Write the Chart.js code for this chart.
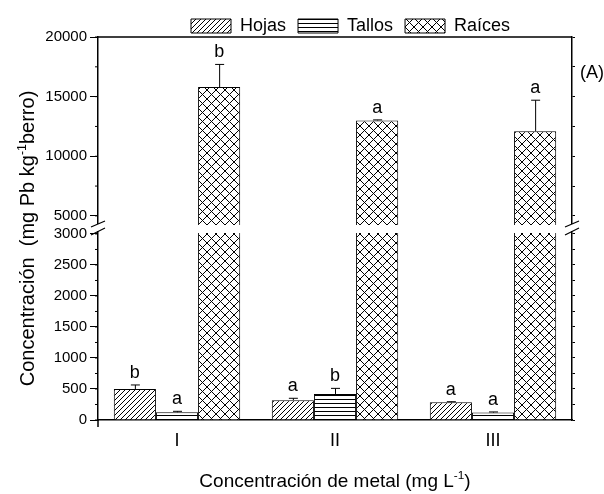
<!DOCTYPE html>
<html>
<head>
<meta charset="utf-8">
<script src="https://cdn.jsdelivr.net/npm/chart.js@4"></script>
<style>
  html, body { margin: 0; padding: 0; background: #fff; }
</style>
</head>
<body>
<canvas id="barCanvas" width="604" height="494"></canvas>
<script>
// datos
const categorias = ["I", "II", "III"];
const hojas = [500, 320, 285];
const tallos = [125, 420, 120];
const raices = [15800, 13000, 12100];
const errHojas = [65, 30, 10];
const errTallos = [15, 90, 10];
const errRaices = [1900, 50, 2600];
const letrasHojas = ["b", "a", "a"];
const letrasTallos = ["a", "b", "a"];
const letrasRaices = ["b", "a", "a"];
const marcasArriba = [5000, 10000, 15000, 20000];
const marcasAbajo = [0, 500, 1000, 1500, 2000, 2500, 3000];

Chart.defaults.font.family = "'Liberation Sans', Arial, sans-serif";
Chart.defaults.color = "#000";

function patron(tipo) {
    const s = tipo === "cruz" ? 9 : tipo === "diag" ? 5 : 4;
    const c = document.createElement("canvas");
    c.width = s;
    c.height = s;
    const g = c.getContext("2d");
    g.fillStyle = "#fff";
    g.fillRect(0, 0, s, s);
    g.strokeStyle = "#000";
    g.lineWidth = 1;
    g.beginPath();
    if (tipo === "diag") {
        g.moveTo(-1, s + 1); g.lineTo(s + 1, -1);
        g.moveTo(-1, 1); g.lineTo(1, -1);
        g.moveTo(s - 1, s + 1); g.lineTo(s + 1, s - 1);
    } else if (tipo === "horiz") {
        g.moveTo(0, s - 0.5); g.lineTo(s, s - 0.5);
    } else {
        g.moveTo(0, 0); g.lineTo(s, s);
        g.moveTo(0, s); g.lineTo(s, 0);
    }
    g.stroke();
    return g.createPattern(c, "repeat");
}

const patHojas = patron("diag");
const patTallos = patron("horiz");
const patRaices = patron("cruz");

// marcas cada "paso" entre min y max (evita el reparto automatico de Chart.js)
function marcasCada(paso) {
    return (s) => {
        const t = [];
        for (let v = Math.ceil(s.min / paso) * paso; v <= s.max; v += paso) t.push({ value: v });
        s.ticks = t;
    };
}

const extras = {
    id: "extras",
    afterLayout(chart) {
        // mover la leyenda a su sitio
        const lg = chart.legend;
        const pad = lg.options.labels.padding;
        const inicio = (lg.left + pad + lg.right - lg.lineWidths[0]) / 2;
        const dx = 191 - inicio;
        lg.left += dx; lg.right += dx;
        lg.top += 5; lg.bottom += 5;
    },
    afterDatasetsDraw(chart) {
        const ctx = chart.ctx;
        const series = [
            [0, hojas, errHojas, letrasHojas, "yAbajo"],
            [1, tallos, errTallos, letrasTallos, "yAbajo"],
            [2, raices, errRaices, letrasRaices, "yArriba"]
        ];
        ctx.save();
        ctx.strokeStyle = "#000";
        ctx.fillStyle = "#000";
        ctx.lineWidth = 1;
        ctx.font = "18px 'Liberation Sans', Arial, sans-serif";
        ctx.textAlign = "center";
        ctx.textBaseline = "alphabetic";
        series.forEach(([di, vals, errs, letras, eje]) => {
            const meta = chart.getDatasetMeta(di);
            const sc = chart.scales[eje];
            vals.forEach((v, i) => {
                const x = meta.data[i].x;
                const y0 = sc.getPixelForValue(v);
                const y1 = sc.getPixelForValue(v + errs[i]);
                ctx.beginPath();
                ctx.moveTo(x + 0.5, y0);
                ctx.lineTo(x + 0.5, y1);
                ctx.moveTo(x - 4, y1);
                ctx.lineTo(x + 5, y1);
                ctx.stroke();
                ctx.fillText(letras[i], x, y1 - 7);
            });
        });
        ctx.restore();
    },
    afterDraw(chart) {
        const ctx = chart.ctx;
        const a = chart.chartArea;
        const ab = chart.scales.yAbajo;
        const ar = chart.scales.yArriba;
        ctx.save();
        ctx.strokeStyle = "#000";
        ctx.lineWidth = 1.5;
        // marco superior
        ctx.beginPath();
        ctx.moveTo(a.left, a.top);
        ctx.lineTo(a.right, a.top);
        ctx.moveTo(a.left, a.bottom);
        ctx.lineTo(a.left, a.bottom + 7);
        ctx.stroke();
        // marcas menores a la izquierda
        ctx.lineWidth = 1;
        ctx.beginPath();
        [ab, ar].forEach(sc => {
            sc.ticks.forEach(t => {
                const y = sc.getPixelForValue(t.value);
                ctx.moveTo(a.left - 3, y);
                ctx.lineTo(a.left, y);
            });
        });
        ctx.stroke();
        // corte del eje
        const yb = ab.top;
        [a.left, a.right].forEach(x => {
            ctx.fillStyle = "#fff";
            ctx.fillRect(x - 2, yb - 5, 4, 7);
            ctx.beginPath();
            ctx.moveTo(x - 7, yb - 2); ctx.lineTo(x + 7, yb - 8);
            ctx.moveTo(x - 7, yb + 6); ctx.lineTo(x + 7, yb - 1);
            ctx.lineWidth = 1.2;
            ctx.stroke();
        });
        // textos
        ctx.fillStyle = "#000";
        const f = "'Liberation Sans', Arial, sans-serif";
        function partes(lista, tam) {
            let w = 0;
            lista.forEach(p => {
                ctx.font = (p.sup ? tam * 0.62 : tam) + "px " + f;
                w += ctx.measureText(p.t).width;
            });
            return w;
        }
        function escribir(lista, tam, cx, base) {
            let x = cx - partes(lista, tam) / 2;
            ctx.textAlign = "left";
            ctx.textBaseline = "alphabetic";
            lista.forEach(p => {
                ctx.font = (p.sup ? tam * 0.62 : tam) + "px " + f;
                ctx.fillText(p.t, x, p.sup ? base - tam * 0.42 : base);
                x += ctx.measureText(p.t).width;
            });
        }
        escribir([{t: "Concentración de metal (mg L"}, {t: "-1", sup: true}, {t: ")"}], 19,
            (a.left + a.right) / 2, 487);
        ctx.save();
        ctx.translate(34, (a.top + a.bottom) / 2 + 10);
        ctx.rotate(-Math.PI / 2);
        escribir([{t: "Concentración  (mg Pb kg"}, {t: "-1", sup: true}, {t: "berro)"}], 20, 0, 0);
        ctx.restore();
        ctx.font = "18px " + f;
        ctx.textAlign = "left";
        ctx.fillText("(A)", a.right + 8, 78);
        ctx.restore();
    }
};

const ejeIzq = (etiquetas, paso) => ({
    type: "linear",
    position: "left",
    stack: "izq",
    stacked: false,
    border: { display: true, color: "#000", width: 1.5 },
    grid: {
        drawOnChartArea: false,
        tickLength: 8,
        tickWidth: 1,
        tickColor: (c) => (c.tick && etiquetas.includes(c.tick.value) ? "#000" : "rgba(0,0,0,0)")
    },
    ticks: {
        autoSkip: false,
        padding: 3,
        font: { size: 15 },
        callback: (v) => (etiquetas.includes(v) ? String(v) : "")
    },
    afterBuildTicks: marcasCada(paso),
    afterFit: (s) => { s.width = 98; }
});

const ejeDer = (paso) => ({
    type: "linear",
    position: "right",
    stack: "der",
    border: { display: true, color: "#000", width: 1.5 },
    grid: { drawOnChartArea: false, tickLength: 3, tickWidth: 1, tickColor: "#000" },
    ticks: { display: false, autoSkip: false },
    afterBuildTicks: marcasCada(paso),
    afterFit: (s) => { s.width = 32; }
});

const barCanvas = document.getElementById("barCanvas");
const barChart = new Chart(barCanvas, {
    type: "bar",
    data: {
        labels: categorias,
        datasets: [
            { label: "Hojas", data: hojas, yAxisID: "yAbajo", backgroundColor: patHojas,
              borderColor: "#000", borderWidth: 1 },
            { label: "Tallos", data: tallos, yAxisID: "yAbajo", backgroundColor: patTallos,
              borderColor: "#000", borderWidth: 1 },
            { label: "Raíces", data: raices, yAxisID: "yArriba", stack: "r", backgroundColor: patRaices,
              borderColor: "#000", borderWidth: 1,
              clip: { left: false, right: false, top: false, bottom: -4 } },
            { label: "Raíces", data: raices, yAxisID: "yAbajo", stack: "r", backgroundColor: patRaices,
              borderColor: "#000", borderWidth: 1,
              clip: { left: false, right: false, top: -4, bottom: false } }
        ]
    },
    options: {
        responsive: false,
        animation: false,
        categoryPercentage: 0.8,
        barPercentage: 1.0,
        layout: { padding: 0 },
        plugins: {
            tooltip: { enabled: false },
            legend: {
                position: "top",
                maxHeight: 37,
                labels: {
                    boxWidth: 40,
                    boxHeight: 14,
                    padding: 12,
                    font: { size: 18 },
                    color: "#000",
                    filter: (item) => item.datasetIndex !== 3
                }
            }
        },
        scales: {
            x: {
                type: "category",
                border: { display: true, color: "#000", width: 1.5 },
                grid: { drawOnChartArea: false, drawTicks: false },
                ticks: { padding: 10, font: { size: 18 } },
                afterFit: (s) => { s.height = 74; }
            },
            yArriba: Object.assign(ejeIzq(marcasArriba, 2500), { min: 3900, max: 20000, weight: 2, stackWeight: 192 }),
            yAbajo: Object.assign(ejeIzq(marcasAbajo, 250), { min: 0, max: 3080, weight: 1, stackWeight: 191 }),
            yArribaDer: Object.assign(ejeDer(2500), { min: 3900, max: 20000, weight: 1, stackWeight: 192 }),
            yAbajoDer: Object.assign(ejeDer(250), { min: 0, max: 3080, weight: 2, stackWeight: 191 })
        }
    },
    plugins: [extras]
});
</script>
</body>
</html>
